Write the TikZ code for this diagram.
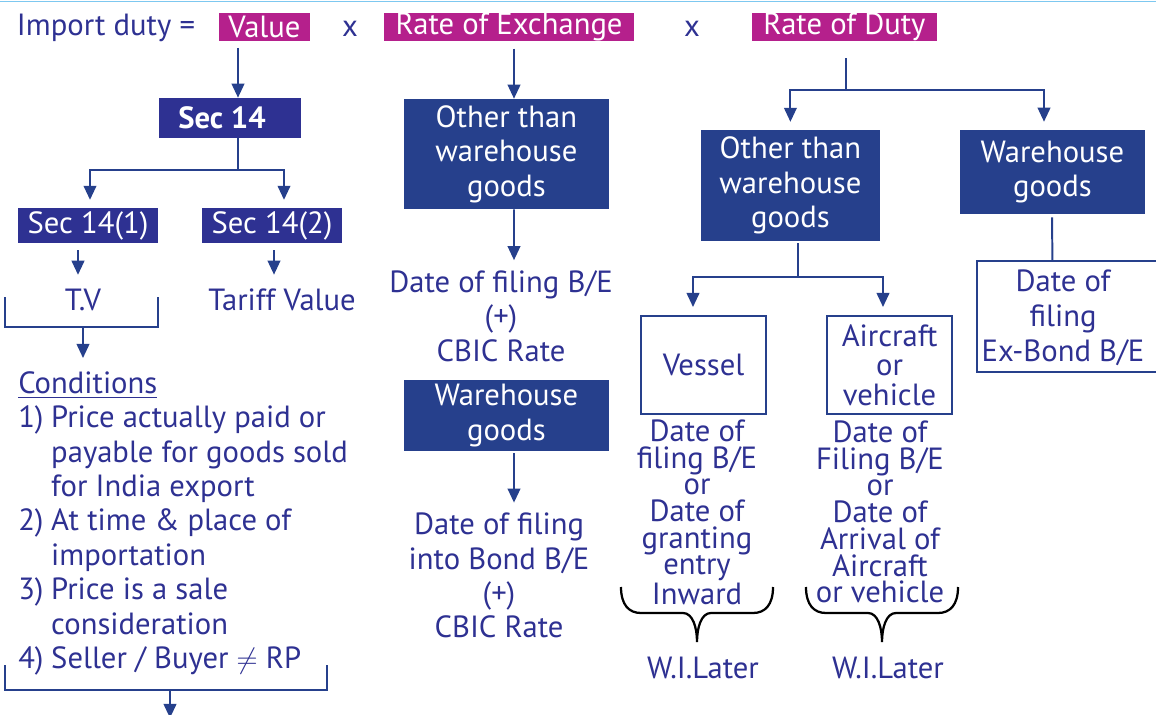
\documentclass[tikz,border=0pt]{standalone}
\usepackage{amsmath}
\usepackage{amssymb}
\usepackage{xcolor}
\usepackage{fontspec}
\setmainfont{PT Sans}
\usepackage{tikz}
\usetikzlibrary{arrows.meta,positioning,calc}

\definecolor{dutyblue}{RGB}{38,64,140}
\definecolor{secblue}{RGB}{46,49,146}
\definecolor{inkblue}{RGB}{46,49,146}
\definecolor{dutypink}{RGB}{181,32,140}
\definecolor{topline}{RGB}{125,200,240}

% curly brace opening downwards, drawn from its left end (#1)
\newcommand{\datebrace}[1]{%
  \draw[curly] (#1) .. controls +(0,-0.45) and +(-0.3,0) .. ++(0.5,-0.65)
    -- ++(1.05,0) .. controls +(0.25,0) and +(0,0.35) .. ++(0.35,-0.725)
    .. controls +(0,0.35) and +(-0.25,0) .. ++(0.35,0.725)
    -- ++(1.05,0) .. controls +(0.3,0) and +(0,-0.45) .. ++(0.5,0.65);}

\begin{document}
\begin{tikzpicture}[
  font=\fontsize{21.8}{24.5}\selectfont,
  text=inkblue,
  formula/.style={fill=dutypink, text=white, minimum height=0.7cm, inner sep=0pt},
  secbox/.style={fill=secblue, text=white, minimum width=3.5cm, minimum height=0.875cm, inner sep=0pt},
  goods/.style={fill=dutyblue, text=white, align=center, inner sep=0pt},
  mode/.style={draw=dutyblue, line width=1.4pt, align=center, inner sep=0pt, minimum width=3.125cm, minimum height=2.45cm},
  note/.style={align=center, inner sep=0pt},
  link/.style={draw=dutyblue, line width=1.4pt},
  arrow/.style={link, -{Triangle[length=10pt,width=9pt]}},
  curly/.style={draw=black, line width=1.6pt}
]
\useasboundingbox (0,0) rectangle (28.9,-17.875);
\draw[topline, line width=1pt] (0,-0.04) -- (28.9,-0.04);

% formula line
\node[note] (duty) at (2.65,-0.7) {Import duty =};
\node[formula, minimum width=2.275cm] (value) at (6.61,-0.675) {Value};
\node[note] (times1) at (8.75,-0.72) {x};
\node[formula, minimum width=6.25cm] (exchange) at (12.725,-0.675) {Rate of Exchange};
\node[note] (times2) at (17.3,-0.72) {x};
\node[formula, minimum width=4.625cm] (rate) at (21.11,-0.675) {Rate of Duty};

% value branch
\node[secbox, minimum width=3.55cm, minimum height=1cm, font=\fontsize{21.8}{24.5}\selectfont\bfseries] (sec14) at (5.75,-2.95) {Sec 14\hspace*{0.4cm}};
\node[secbox] (sec141) at (2.2,-5.64) {Sec 14(1)};
\node[secbox] (sec142) at (6.8,-5.64) {Sec 14(2)};
\node[note] (tv) at (2.075,-7.5) {T.V};
\node[note] (tariff) at (7.05,-7.5) {Tariff Value};
\node[anchor=north west, inner sep=0pt] (cond) at (0.45,-9.22) {%
  \begin{tabular}{@{}l@{\hspace{0.25em}}l@{}}
  \multicolumn{2}{@{}l}{\underline{Conditions}}\\
  1) & Price actually paid or\\
     & payable for goods sold\\
     & for India export\\
  2) & At time \& place of\\
     & importation\\
  3) & Price is a sale\\
     & consideration\\
  4) & Seller / Buyer $\neq$ RP
  \end{tabular}};

\coordinate (valuedrop) at (5.95,-1.2);
\coordinate (secsplit) at (5.95,-4.25);
\coordinate (tvl) at (0.125,-7.425);
\coordinate (tvr) at (3.95,-7.425);
\coordinate (tvfoot) at (2.075,-8.175);
\coordinate (condl) at (0.125,-16.625);
\coordinate (condr) at (8.175,-16.625);
\coordinate (condfoot) at (4.25,-17.25);

\draw[arrow] (valuedrop) -- (valuedrop |- sec14.north);
\draw[link] (sec14.south -| secsplit) -- (secsplit);
\draw[arrow, shorten >=0.2cm] (secsplit) -| ([xshift=0.05cm]sec141.north);
\draw[arrow, shorten >=0.2cm] (secsplit) -| ([xshift=0.3cm]sec142.north);
\draw[arrow, shorten <=0.17cm, shorten >=0.35cm] ([xshift=-0.25cm]sec141.south) -- ([xshift=-0.125cm]tv.north);
\draw[arrow, shorten <=0.17cm, shorten >=0.35cm] ([xshift=0.05cm]sec142.south) -- ([xshift=-0.2cm]tariff.north);
\draw[link] (tvl) |- (tvfoot) -| (tvr);
\draw[arrow] (tvfoot) -- ++(0,-0.775);
\draw[link] (condl) |- (condfoot) -| (condr);
\draw[arrow] (condfoot) -- ++(0,-0.7);

% exchange branch
\node[goods, minimum width=5.125cm, minimum height=2.75cm] (othermid) at (12.66,-3.85) {Other than\\warehouse\\goods};
\node[note] (billmid) at (12.525,-7.9) {Date of filing B/E\\(+)\\CBIC Rate};
\node[goods, minimum width=5.125cm, minimum height=1.775cm] (whmid) at (12.66,-10.39) {Warehouse\\goods};
\node[note] (bondmid) at (12.475,-14.39) {Date of filing\\into Bond B/E\\(+)\\CBIC Rate};

\draw[arrow, shorten <=0.18cm] ([xshift=0.125cm]exchange.south) -- ([xshift=0.19cm]othermid.north);
\draw[arrow, shorten >=0.25cm] ([xshift=0.19cm]othermid.south) -- ([xshift=0.325cm]billmid.north);
\draw[arrow, shorten <=0.05cm, shorten >=0.25cm] ([xshift=0.19cm]whmid.south) -- ([xshift=0.375cm]bondmid.north);

% duty branch
\node[goods, minimum width=4.475cm, minimum height=2.775cm] (otherright) at (19.76,-4.64) {Other than\\warehouse\\goods};
\node[goods, minimum width=4.625cm, minimum height=2.1cm] (whright) at (26.31,-4.3) {Warehouse\\goods};
\node[mode] (vessel) at (17.59,-9.125) {Vessel};
\node[mode, font=\fontsize{21.8}{21}\selectfont] (aircraft) at (22.24,-9.125) {Aircraft\\or\\vehicle};
\node[mode, minimum width=4.8cm, minimum height=2.775cm] (exbond) at (26.825,-7.91) {};
\node[note, font=\fontsize{21.8}{24.9}\selectfont] (exbondtext) at (26.575,-7.95) {Date of\\filing\\Ex-Bond B/E};
\node[note, font=\fontsize{21.8}{19}\selectfont] (vdate) at (17.425,-12.8) {Date of\\filing B/E\\or\\Date of\\granting\\entry\\Inward};
\node[note, font=\fontsize{21.8}{19}\selectfont] (adate) at (22.0,-12.8) {Date of\\Filing B/E\\or\\Date of\\Arrival of\\Aircraft\\or vehicle};
\node[note] (vlater) at (17.575,-16.7) {W.I.Later};
\node[note] (alater) at (22.2,-16.7) {W.I.Later};

\coordinate (ratesplit) at (21.15,-2.25);
\coordinate (modesplit) at (19.95,-6.925);
\coordinate (vbrace) at (15.525,-14.675);
\coordinate (abrace) at (20.15,-14.675);

\draw[link, shorten <=0.43cm] (rate.south -| ratesplit) -- (ratesplit);
\draw[arrow, shorten >=0.2cm] (ratesplit) -| (otherright.north);
\draw[arrow, shorten >=0.2cm] (ratesplit) -| ([xshift=-0.21cm]whright.north);
\draw[link, shorten <=0.05cm] (otherright.south -| modesplit) -- (modesplit);
\draw[arrow, shorten >=0.2cm] (modesplit) -| ([xshift=-0.265cm]vessel.north);
\draw[arrow, shorten >=0.2cm] (modesplit) -| ([xshift=-0.165cm]aircraft.north);
\draw[link, shorten <=0.08cm] ([xshift=-0.01cm]whright.south) -- (whright.south |- exbond.north);

\datebrace{vbrace}
\datebrace{abrace}
\end{tikzpicture}
\end{document}
